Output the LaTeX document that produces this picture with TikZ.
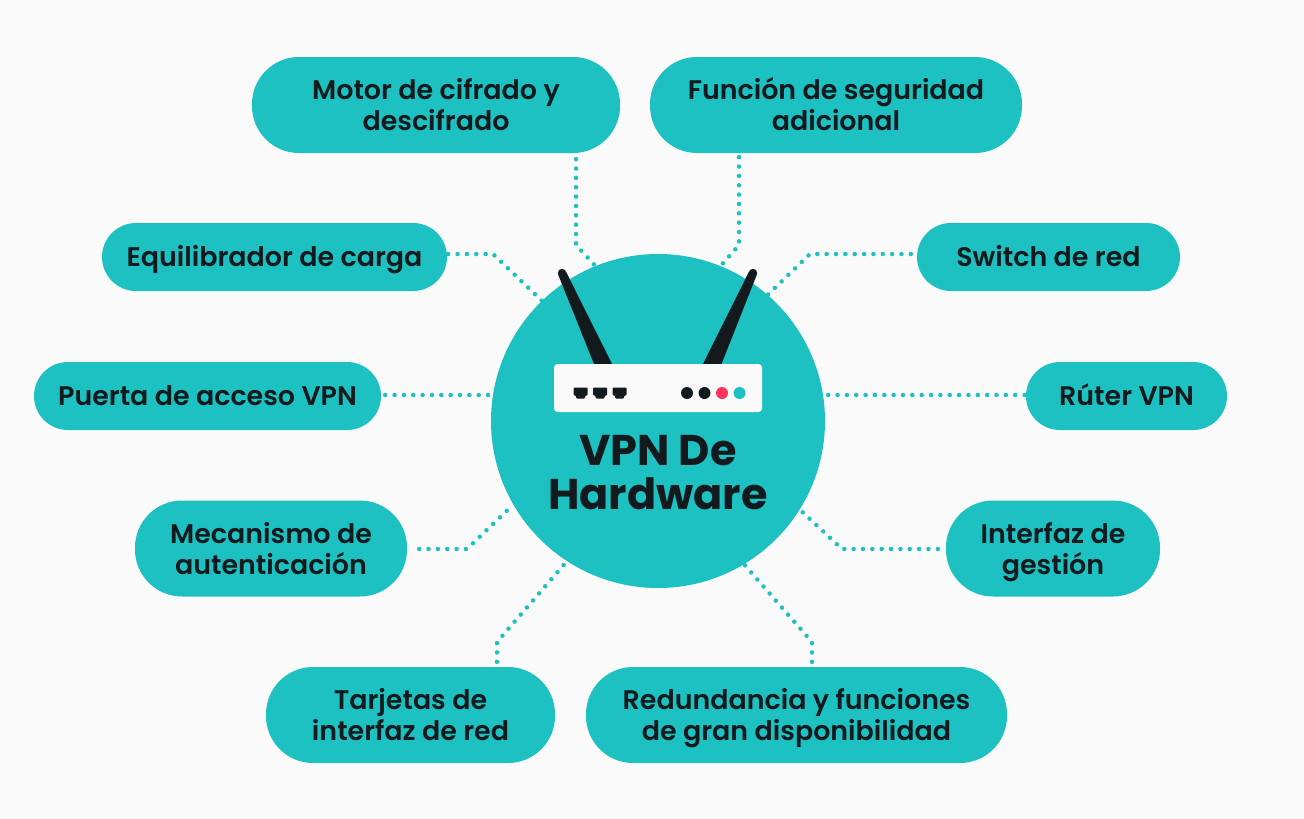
\documentclass[tikz,border=0pt]{standalone}
\usepackage{fontspec}
\setmainfont{Poppins}[UprightFont={* SemiBold},BoldFont={* Bold}]
\usetikzlibrary{calc}
\definecolor{teal}{HTML}{1EC1C1}
\definecolor{ink}{HTML}{121A1E}
\definecolor{bgc}{HTML}{FAFAFA}
\definecolor{ledred}{HTML}{FF3358}
\tikzset{
  pill/.style={fill=teal,inner sep=0pt,align=center,text=ink,font=\fontsize{26.9}{31}\selectfont,anchor=center,text depth=4pt},
  tallpill/.style={pill,minimum height=96pt,rounded corners=47pt,text height=55pt},
  lowpill/.style={pill,minimum height=68pt,rounded corners=34pt,text height=22pt},
  dots/.style={draw=teal,line width=4.5pt,line cap=round,dash pattern=on 0pt off 9.35pt,shorten <=#1},
  led/.style={circle,inner sep=0pt,minimum size=12pt},
}
\begin{document}
\begin{tikzpicture}[x=1pt,y=-1pt]
\useasboundingbox (0,0) rectangle (1304,819);
\fill[bgc] (0,0) rectangle (1304,819);
% pills
\node[tallpill,minimum width=368pt] (motor) at (436,105) {Motor de cifrado y\\descifrado};
\node[tallpill,minimum width=372pt] (func) at (836,105) {Función de seguridad\\adicional};
\node[lowpill,minimum width=345pt] (equi) at (274.5,257) {Equilibrador de carga};
\node[lowpill,minimum width=263pt] (switch) at (1048.5,257) {Switch de red};
\node[lowpill,minimum width=347pt] (puerta) at (207.5,396) {Puerta de acceso VPN};
\node[lowpill,minimum width=201pt] (ruter) at (1126.5,396) {Rúter VPN};
\node[tallpill,minimum width=272pt] (meca) at (271,548.5) {Mecanismo de\\autenticación};
\node[tallpill,minimum width=214pt] (inter) at (1053,548.5) {Interfaz de\\gestión};
\node[tallpill,minimum width=289pt] (tarj) at (410.5,715) {Tarjetas de\\interfaz de red};
\node[tallpill,minimum width=421pt] (redu) at (796.5,715) {Redundancia y funciones\\de gran disponibilidad};
% hub
\node[circle,fill=teal,minimum size=334pt,inner sep=0pt] (hub) at (658,421) {};
% connectors
\coordinate (bm) at (576,245);
\coordinate (bf) at (739,245);
\coordinate (be) at (493,254);
\coordinate (bs) at (810,254);
\coordinate (bk) at (467,549);
\coordinate (bi) at (842,549);
\coordinate (bt) at (497,642);
\coordinate (br) at (812,642);
\draw[dots=6pt] (motor.south -| bm) -- (bm) -- (hub.112);
\draw[dots=4pt] (func.south -| bf) -- (bf) -- (hub.68);
\draw[dots=1pt] (equi.east |- be) -- (be) -- (hub.134);
\draw[dots=6pt] (switch.west |- bs) -- (bs) -- (hub.49);
\draw[dots=4pt] (puerta.east |- 0,395) -- (hub.west |- 0,395);
\draw[dots=3pt] (hub.east |- 0,395) -- (ruter.west |- 0,395);
\draw[dots=12pt] (meca.east |- bk) -- (bk) -- (hub.210);
\draw[dots=8pt] (inter.west |- bi) -- (bi) -- (hub.328);
\draw[dots=5pt] (tarj.north -| bt) -- (bt) -- (hub.237);
\draw[dots=5pt] (redu.north -| br) -- (br) -- (hub.301);
% antennas
\fill[ink] (558.2,274.7) -- (594,364) -- (612,364) -- (565.8,271.3) -- cycle;
\fill[ink] (562,273) circle (4.2pt);
\fill[ink] (756.8,274.7) -- (721.5,364) -- (703,364) -- (749.2,271.3) -- cycle;
\fill[ink] (753,273) circle (4.2pt);
% router
\fill[bgc,rounded corners=3.5pt] (554,364) rectangle (762,412);
\foreach \px in {573.5,593,612.5}{
  \fill[ink,rounded corners=1pt] (\px,387.5) -- ++(14,0) -- ++(0,8) -- ++(-2.5,0) -- ++(0,3) -- ++(-9,0) -- ++(0,-3) -- ++(-2.5,0) -- cycle;
}
\node[led,fill=ink] (l1) at (687,393) {};
\node[led,fill=ink] (l2) at (704.5,393) {};
\node[led,fill=ledred] (l3) at (722,393) {};
\node[led,fill=teal] (l4) at (739.5,393) {};
% title
\node[align=center,text=ink,inner sep=0pt,font=\fontsize{43}{44}\bfseries\selectfont] (title) at (658,473) {VPN De\\Hardware};
\end{tikzpicture}
\end{document}
